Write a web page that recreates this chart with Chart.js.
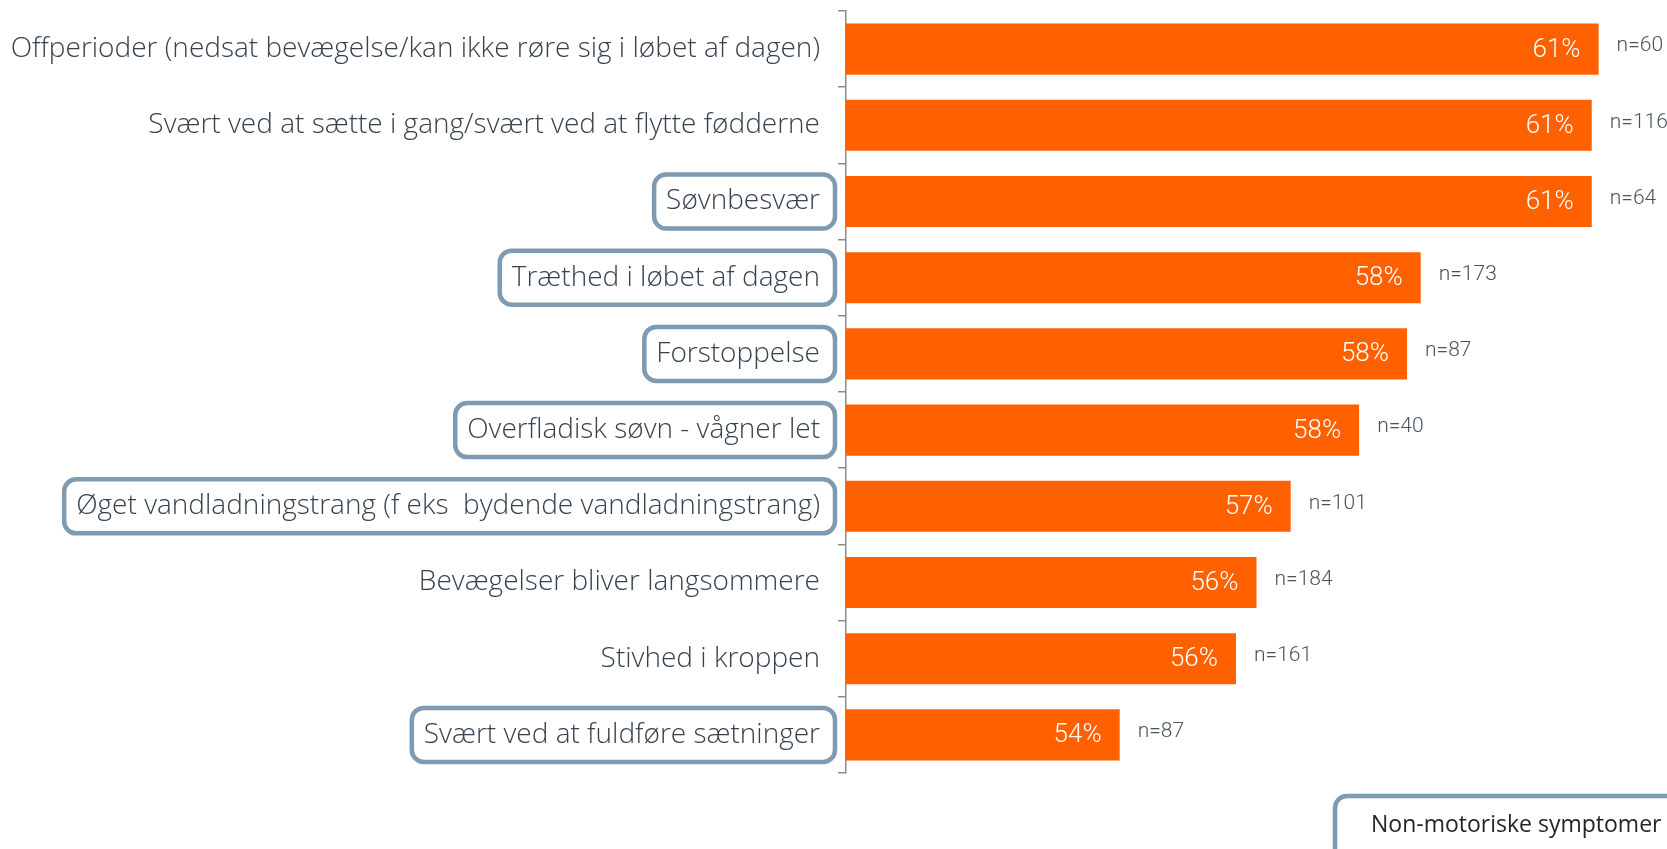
<!DOCTYPE html>
<html>

<head>
    <meta charset="utf-8">
    <script src="https://cdn.jsdelivr.net/npm/chart.js@4.4.1/dist/chart.umd.min.js"></script>
    <title>Symptomer</title>
    <style>
        html, body { margin: 0; padding: 0; background: #fff; }
        canvas { display: block; }
    </style>
</head>

<body>
    <canvas id="symptom-chart" width="1667" height="849"></canvas>
    <script>
        // symptomer, andel i procent og antal svar
        const symptomer = [
            'Offperioder (nedsat bevægelse/kan ikke røre sig i løbet af dagen)',
            'Svært ved at sætte i gang/svært ved at flytte fødderne',
            'Søvnbesvær',
            'Træthed i løbet af dagen',
            'Forstoppelse',
            'Overfladisk søvn - vågner let',
            'Øget vandladningstrang (f eks  bydende vandladningstrang)',
            'Bevægelser bliver langsommere',
            'Stivhed i kroppen',
            'Svært ved at fuldføre sætninger'
        ];
        const andel = [61.0, 60.9, 60.9, 58.4, 58.2, 57.5, 56.5, 56.0, 55.7, 54.0];
        const antal = [60, 116, 64, 173, 87, 40, 101, 184, 161, 87];
        // non-motoriske symptomer får en ramme
        const nonMotorisk = [false, false, true, true, true, true, true, false, false, true];
        const forklaring = 'Non-motoriske symptomer';

        const orange = '#ff6100';
        const rammeFarve = '#7e9bb1';
        const tekstFarve = '#36424f';
        const labelFont = '300 28px "Open Sans"';

        function rundRamme(ctx, x, y, w, h, r) {
            ctx.beginPath();
            ctx.roundRect(x, y, w, h, r);
            ctx.stroke();
        }

        // rammer om kategorierne + forklaringsboks
        const rammer = {
            id: 'rammer',
            afterDraw(chart) {
                const ctx = chart.ctx;
                const yScale = chart.scales.y;
                ctx.save();
                ctx.font = labelFont;
                ctx.strokeStyle = rammeFarve;
                ctx.lineWidth = 4.5;
                const tekstHoejre = yScale.right - 8 - 18;
                symptomer.forEach((s, i) => {
                    if (!nonMotorisk[i]) return;
                    const w = ctx.measureText(s).width;
                    const y = yScale.getPixelForTick(i);
                    const venstre = tekstHoejre - w - 12;
                    rundRamme(ctx, venstre, y - 27, tekstHoejre + 15 - venstre, 54, 12);
                });

                rundRamme(ctx, 1335, 796, 420, 100, 12);
                ctx.fillStyle = '#262626';
                ctx.font = '23px "Open Sans"';
                ctx.textAlign = 'left';
                ctx.textBaseline = 'middle';
                ctx.fillText(forklaring, 1371, 825);
                ctx.restore();
            }
        };

        // procent inde i søjlen, n= efter søjlen
        const vaerdier = {
            id: 'vaerdier',
            afterDatasetsDraw(chart) {
                const ctx = chart.ctx;
                const meta = chart.getDatasetMeta(0);
                ctx.save();
                ctx.textBaseline = 'middle';
                meta.data.forEach((bar, i) => {
                    ctx.font = '300 26px Roboto';
                    ctx.fillStyle = '#ffffff';
                    ctx.textAlign = 'right';
                    ctx.fillText(Math.round(andel[i]) + '%', bar.x - 18, bar.y + 1);

                    ctx.font = '300 21px Roboto';
                    ctx.fillStyle = '#4a545e';
                    ctx.textAlign = 'left';
                    ctx.fillText('n=' + antal[i], bar.x + 18, bar.y - 3);
                });
                ctx.restore();
            }
        };

        new Chart(document.getElementById('symptom-chart'), {
            type: 'bar',
            data: {
                labels: symptomer,
                datasets: [{
                    data: andel,
                    backgroundColor: orange,
                    borderWidth: 0,
                    categoryPercentage: 1,
                    barPercentage: 0.67
                }]
            },
            options: {
                indexAxis: 'y',
                responsive: false,
                animation: false,
                devicePixelRatio: 1,
                layout: { padding: { top: 11, bottom: 76, left: 0, right: 0 } },
                plugins: {
                    legend: { display: false },
                    tooltip: { enabled: false }
                },
                scales: {
                    x: {
                        display: false,
                        min: 50,
                        max: 62
                    },
                    y: {
                        grid: {
                            drawOnChartArea: false,
                            offset: true,
                            tickLength: 8,
                            color: '#8c8c8c',
                            lineWidth: 1.5
                        },
                        border: { color: '#8c8c8c', width: 1.5 },
                        ticks: {
                            font: { family: 'Open Sans', size: 28, weight: 300 },
                            color: tekstFarve,
                            padding: 18,
                            autoSkip: false
                        },
                        afterFit(scale) {
                            scale.width = 846;
                            scale.paddingTop = 0;
                            scale.paddingBottom = 0;
                        }
                    }
                }
            },
            plugins: [vaerdier, rammer]
        });
    </script>
</body>

</html>
